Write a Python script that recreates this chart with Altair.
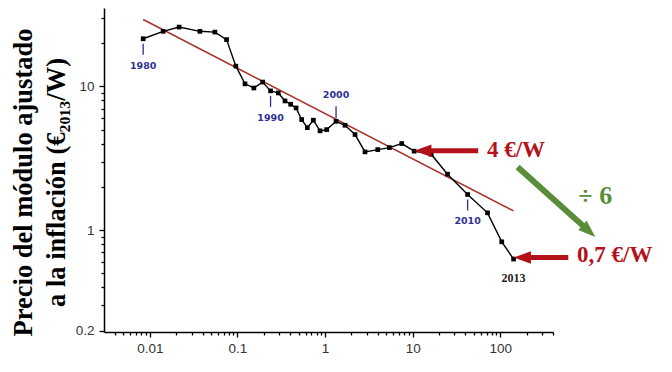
import altair as alt
import pandas as pd
import numpy as np

# ---- data ----
cum_gw = [0.0084, 0.0142, 0.0216, 0.0373, 0.0553, 0.0752, 0.096, 0.122, 0.154, 0.194,
          0.239, 0.293, 0.349, 0.405, 0.467, 0.541, 0.628, 0.736, 0.877, 1.045,
          1.336, 1.69, 2.20, 2.86, 4.0, 5.43, 7.51, 10.4, 16.3, 25.0,
          42.4, 71.6, 104, 142]
price = [21.4, 24.1, 25.8, 24.1, 23.8, 21.1, 13.8, 10.4, 9.73, 10.7,
         9.29, 8.99, 7.91, 7.50, 7.07, 5.87, 5.16, 5.81, 4.90, 5.00,
         5.71, 5.36, 4.62, 3.50, 3.63, 3.75, 4.0, 3.54, 3.37, 2.45,
         1.77, 1.32, 0.83, 0.63]
years = list(range(1980, 2014))

trend_x = [0.0084, 142]
trend_y = [29.1, 1.36]

label_years_down = ["1980", "1990", "2010"]
label_x_down = [0.0084, 0.239, 42.4]
label_y_down = [21.4, 9.29, 1.77]
label_years_up = ["2000"]
label_x_up = [1.336]
label_y_up = [5.71]
last_label = ["2013"]
last_x = [142]
last_y = [0.63]

x_major = [0.01, 0.1, 1, 10, 100]
x_minor = [m * d for d in [0.001, 0.01, 0.1, 1, 10, 100] for m in range(2, 10)
           if 0.0035 < m * d <= 400]
y_major = [0.2, 1, 10]
y_minor = [0.3, 0.4, 0.5, 0.6, 0.7, 0.8, 0.9, 2, 3, 4, 5, 6, 7, 8, 9, 20, 30]

# annotations (data coordinates)
ann_text = ["4 €/W", "0,7 €/W", "÷ 6"]
ann_x = [70.5, 753, 779]
ann_y = [3.63, 0.67, 1.72]
ann_size = [23, 23, 26]
ann_color = ["#b3121b", "#b3121b", "#5b8c3a"]

arrow_x0 = [56, 598, 157.7]
arrow_y0 = [3.56, 0.645, 2.75]
arrow_x1 = [10.4, 142, 1218]
arrow_y1 = [3.56, 0.645, 0.898]
arrow_color = ["#b3121b", "#b3121b", "#5b8c3a"]
arrow_width = [5, 5, 6]

X_DOMAIN = [0.003, 400]
Y_DOMAIN = [0.196, 35]
W, H = 449, 324

# ---- frames ----
df = pd.DataFrame({"x": cum_gw, "y": price, "year": years})
trend = pd.DataFrame({"x": trend_x, "y": trend_y})
lab_down = pd.DataFrame({"x": label_x_down, "y": label_y_down, "t": label_years_down})
lab_up = pd.DataFrame({"x": label_x_up, "y": label_y_up, "t": label_years_up})
lab_last = pd.DataFrame({"x": last_x, "y": last_y, "t": last_label})
ann = pd.DataFrame({"x": ann_x, "y": ann_y, "t": ann_text, "c": ann_color, "s": ann_size})

pxx = W / (np.log10(X_DOMAIN[1]) - np.log10(X_DOMAIN[0]))
pxy = H / (np.log10(Y_DOMAIN[1]) - np.log10(Y_DOMAIN[0]))
arr = pd.DataFrame({"x0": arrow_x0, "y0": arrow_y0, "x1": arrow_x1, "y1": arrow_y1,
                    "c": arrow_color, "w": arrow_width})
dxp = (np.log10(arr.x1) - np.log10(arr.x0)) * pxx
dyp = -(np.log10(arr.y1) - np.log10(arr.y0)) * pxy
L = np.hypot(dxp, dyp)
back = 12.0
arr["xs"] = arr.x1 * 10 ** (-(dxp / L) * back / pxx)
arr["ys"] = arr.y1 * 10 ** ((dyp / L) * back / pxy)
arr["ang"] = np.degrees(np.arctan2(dyp, dxp)) % 360

major_test_x = "abs(log(datum.value)/LN10 - round(log(datum.value)/LN10)) < 0.001"
major_test_y = "(" + major_test_x + ") || abs(datum.value - 0.2) < 1e-9"

xscale = alt.Scale(type="log", domain=X_DOMAIN, nice=False)
yscale = alt.Scale(type="log", domain=Y_DOMAIN, nice=False)

xaxis = alt.Axis(values=sorted(x_major + x_minor), format="~g", grid=False,
                 labelExpr=f"({major_test_x}) ? datum.label : ''",
                 tickSize={"condition": {"test": major_test_x, "value": 5}, "value": 3},
                 labelPadding=4, title=None, labelFlush=False, labelOverlap=False)
yaxis = alt.Axis(values=sorted(y_major + y_minor), format="~g", grid=False,
                 labelExpr=f"({major_test_y}) ? datum.label : ''",
                 tickSize={"condition": {"test": major_test_y, "value": 5}, "value": 3},
                 labelPadding=5, labelFlush=False, labelOverlap=False,
                 title=["Precio del módulo ajustado", "a la inflación (€₂₀₁₃/W)"],
                 titleFont="Liberation Serif", titleFontSize=26.5, titleFontWeight="bold",
                 titleColor="black", titleAngle=270, titleAlign="center",
                 titleBaseline="bottom", titleX=-67, titleY=174, titleLineHeight=33)

X = alt.X("x:Q", scale=xscale, axis=xaxis)
Y = alt.Y("y:Q", scale=yscale, axis=yaxis)
Xn = alt.X("x:Q", scale=xscale)
Yn = alt.Y("y:Q", scale=yscale)

line = alt.Chart(df).mark_line(color="black", strokeWidth=1.4).encode(x=X, y=Y, order="year:Q")
pts = alt.Chart(df).mark_point(shape="square", filled=True, color="black", size=22, opacity=1).encode(x=Xn, y=Yn)
tr = alt.Chart(trend).mark_line(color="#a8322b", strokeWidth=1.5).encode(x=Xn, y=Yn)

navy = "#2e3192"
tick_down = alt.Chart(lab_down).mark_rule(color=navy, strokeWidth=1.3, yOffset=5, y2Offset=16).encode(
    x=Xn, y=Yn, y2="y:Q")
tick_up = alt.Chart(lab_up).mark_rule(color=navy, strokeWidth=1.3, yOffset=-3, y2Offset=-15).encode(
    x=Xn, y=Yn, y2="y:Q")
txt_down = alt.Chart(lab_down).mark_text(color=navy, font="DejaVu Sans", fontWeight="bold",
                                         fontSize=9.5, dy=27, baseline="middle").encode(x=Xn, y=Yn, text="t:N")
txt_up = alt.Chart(lab_up).mark_text(color=navy, font="DejaVu Sans", fontWeight="bold",
                                     fontSize=9.5, dy=-26, baseline="middle").encode(x=Xn, y=Yn, text="t:N")
txt_last = alt.Chart(lab_last).mark_text(color="#222", font="Liberation Serif", fontWeight="bold",
                                         fontSize=12, dy=19, baseline="middle").encode(x=Xn, y=Yn, text="t:N")

shaft = alt.Chart(arr).mark_rule(strokeCap="butt").encode(
    x=alt.X("x0:Q", scale=xscale), y=alt.Y("y0:Q", scale=yscale),
    x2="xs:Q", y2="ys:Q",
    color=alt.Color("c:N", scale=None),
    strokeWidth=alt.StrokeWidth("w:Q", scale=None))
head = alt.Chart(arr).mark_point(shape="M0,0L-2,-0.72L-2,0.72Z", filled=True, size=300, opacity=1).encode(
    x=alt.X("x1:Q", scale=xscale), y=alt.Y("y1:Q", scale=yscale),
    angle=alt.Angle("ang:Q", scale=None),
    color=alt.Color("c:N", scale=None))
ann_t = alt.Chart(ann).mark_text(font="Liberation Serif", fontWeight="bold",
                                 align="left", baseline="middle").encode(
    x=Xn, y=Yn, text="t:N", color=alt.Color("c:N", scale=None),
    size=alt.Size("s:Q", scale=None))

chart = alt.layer(tr, line, pts, tick_down, tick_up, txt_down, txt_up, txt_last,
                  shaft, head, ann_t).properties(
    width=W, height=H,
    autosize=alt.AutoSizeParams(type="none"),
    padding={"left": 96, "top": 0, "right": 108, "bottom": 30},
    background="white",
).configure_view(stroke=None).configure_axis(
    domainColor="black", domainWidth=1.5, tickColor="black", tickWidth=1.3,
    labelFont="Liberation Sans", labelFontSize=13.5, labelColor="#333")

chart.save("out.html", embed_options={"renderer": "svg", "actions": False})
